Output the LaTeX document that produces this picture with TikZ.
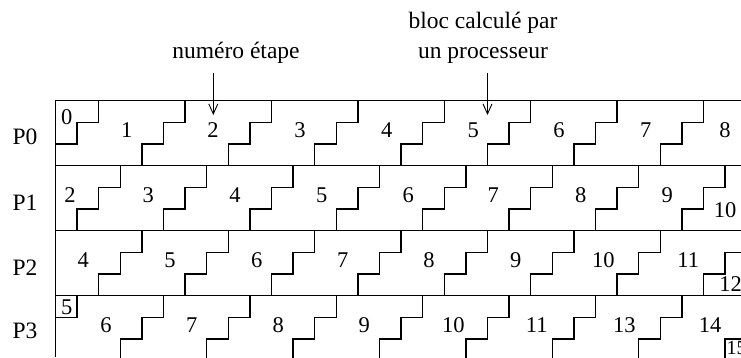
\documentclass[tikz,border=0pt]{standalone}
\usepackage{fontspec}
\setmainfont{Liberation Serif}
\usetikzlibrary{arrows.meta}
\begin{document}
\begin{tikzpicture}[x=1pt,y=-1pt,
  txt/.style={font=\fontsize{23.5}{27}\selectfont, inner sep=0pt},
  num/.style={font=\fontsize{22.5}{25}\selectfont, inner sep=0pt},
  stair/.style={line width=1.5pt},
  sep/.style={line width=1.5pt},
  border/.style={line width=1pt},
  pointer/.style={line width=0.9pt,-{Straight Barb[length=10pt,width=9pt]}}
]
\useasboundingbox (0,0) rectangle (741,357);
\begin{scope}
\clip (55,0) rectangle (741,357);
\foreach \r in {0,...,3} {
  \pgfmathsetmacro{\rowtop}{100.7+65*\r}
  \foreach \k in {-1,...,8} {
    \pgfmathsetmacro{\xa}{98.7+21.6*\r+86.4*\k}
    \draw[stair] (\xa,\rowtop) -- ++(0,21.67) -- ++(-21.6,0) -- ++(0,21.67) -- ++(-21.6,0) -- ++(0,21.67);
  }
}
% row 0
\foreach \x/\t [count=\i] in {126.7/1,213/2,300/3,386.7/4,473.3/5,559/6,645.7/7,725/8}
  \node[num] (a\i) at (\x,130) {\t};
\node[num] (a0) at (66.7,117) {0};
% row 1
\foreach \x/\t [count=\i] in {70/2,148.3/3,235/4,321.7/5,408.3/6,493.3/7,580.7/8,667.3/9}
  \node[num] (b\i) at (\x,195.5) {\t};
\node[num] (b9) at (725,210.5) {10};
% row 2
\foreach \x/\t [count=\i] in {83.3/4,170/5,256.7/6,342.7/7,429/8,515.7/9,603.3/10,688.3/11}
  \node[num] (c\i) at (\x,260.5) {\t};
\node[num] (c9) at (730.5,284) {12};
% row 3
\foreach \x/\t [count=\i] in {106/6,191.7/7,278.3/8,364.3/9,453.3/10,536.7/11,624.3/13,710/14}
  \node[num] (d\i) at (\x,325.5) {\t};
\node[num] (d0) at (66.7,307) {5};
\node[num,anchor=north west,font=\fontsize{20}{22}\selectfont] (d9) at (726.5,341.5) {15};
\end{scope}
% frame
\draw[border] (55,100.7) -- (741,100.7);
\draw[sep] (55,165.7) -- (741,165.7);
\draw[sep] (55,230.7) -- (741,230.7);
\draw[sep] (55,295.7) -- (741,295.7);
\draw[border] (55,100.7) -- (55,357);
% processor labels
\node[txt] (p0) at (25,137) {P0};
\node[txt] (p1) at (25,202.5) {P1};
\node[txt] (p2) at (25,267.5) {P2};
\node[txt] (p3) at (25,331) {P3};
% annotations
\node[txt,anchor=base] (etape) at (236,58) {numéro étape};
\node[txt,anchor=base] (bloc1) at (483,28) {bloc calculé par};
\node[txt,anchor=base] (bloc2) at (483,58) {un processeur};
\coordinate (etapestart) at (213.3,73);
\coordinate (etapetip) at (213.3,115);
\coordinate (blocstart) at (487.5,73);
\coordinate (bloctip) at (487.5,115);
\draw[pointer] (etapestart) -- (etapetip);
\draw[pointer] (blocstart) -- (bloctip);
\end{tikzpicture}
\end{document}
